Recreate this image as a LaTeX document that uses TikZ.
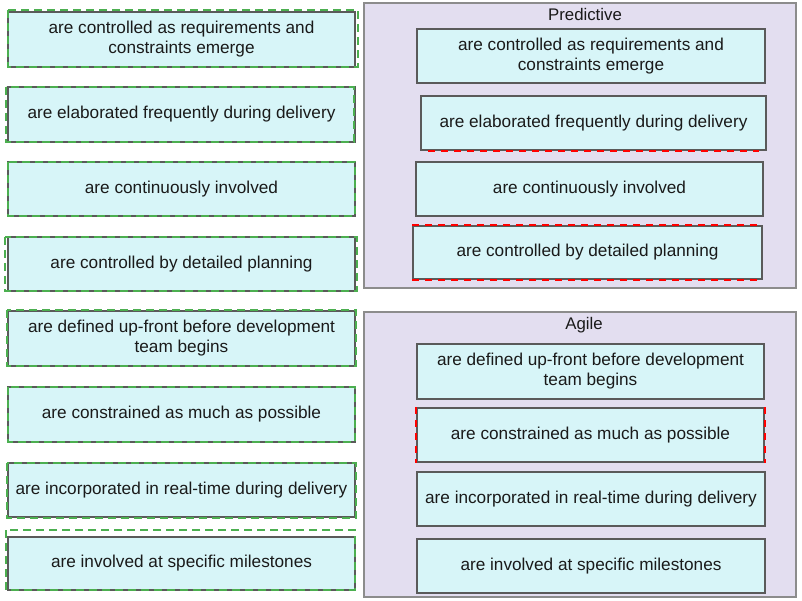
\documentclass[tikz,border=0pt]{standalone}
\usepackage{fontspec}
\setmainfont{Liberation Sans}
\definecolor{boxfill}{HTML}{D7F5F8}
\definecolor{boxline}{HTML}{5A5A5A}
\definecolor{panelfill}{HTML}{E3DEF0}
\definecolor{panelline}{HTML}{8C8C8C}
\definecolor{dropgreen}{HTML}{4CAF50}
\definecolor{txt}{HTML}{1A1A1A}
\tikzset{
  x=1pt, y=-1pt,
  card/.style={draw=boxline, fill=boxfill, line width=1.2pt, inner sep=0pt,
    align=center, text=txt, font=\fontsize{17.2}{20}\selectfont},
  panel/.style={draw=panelline, fill=panelfill, line width=2pt},
  greendash/.style={draw=dropgreen, line width=2.2pt, dash pattern=on 8pt off 5pt},
  reddash/.style={draw=red, line width=2pt, dash pattern=on 7pt off 6pt},
  ptitle/.style={text=txt, font=\fontsize{16.8}{18}\selectfont}
}
\begin{document}
\begin{tikzpicture}
\useasboundingbox (0,0) rectangle (802,601);
\fill[white] (0,0) rectangle (802,601);
% panels
\draw[panel] (364,3) rectangle (796,288);
\draw[panel] (364,312) rectangle (796,597);
\node[ptitle] (tpred) at (585,15) {Predictive};
\node[ptitle] (tagile) at (584,325) {Agile};
% left cards
\node[card, minimum width=347pt, minimum height=55pt] (l1) at (181.5,39.5) {are controlled as requirements and\\constraints emerge};
\node[card, minimum width=347pt, minimum height=55pt] (l2) at (181.5,114.5) {are elaborated frequently during delivery};
\node[card, minimum width=347pt, minimum height=54pt] (l3) at (181.5,189) {are continuously involved};
\node[card, minimum width=347pt, minimum height=54pt] (l4) at (181.5,264) {are controlled by detailed planning};
\node[card, minimum width=347pt, minimum height=55pt] (l5) at (181.5,338.5) {are defined up-front before development\\team begins};
\node[card, minimum width=347pt, minimum height=55pt] (l6) at (181.5,414.5) {are constrained as much as possible};
\node[card, minimum width=347pt, minimum height=54pt] (l7) at (181.5,490) {are incorporated in real-time during delivery};
\node[card, minimum width=347pt, minimum height=53pt] (l8) at (181.5,563.5) {are involved at specific milestones};
% green drop outlines
\draw[greendash] (8,10) rectangle (358,67);
\draw[greendash] (6,87) rectangle (354,142);
\draw[greendash] (8,162) rectangle (355,216);
\draw[greendash] (5,237) rectangle (357,291);
\draw[greendash] (7,310) rectangle (356,366);
\draw[greendash] (8,387) rectangle (355,442);
\draw[greendash] (7,463) rectangle (356,518);
\draw[greendash] (6,530) rectangle (355,590);
% predictive cards
\node[card, minimum width=348pt, minimum height=54pt] (p1) at (591,56) {are controlled as requirements and\\constraints emerge};
\node[card, minimum width=345pt, minimum height=54pt] (p2) at (593.5,123) {are elaborated frequently during delivery};
\node[card, minimum width=347pt, minimum height=54pt] (p3) at (589.5,189) {are continuously involved};
\node[card, minimum width=349pt, minimum height=53pt] (p4) at (587.5,252.5) {are controlled by detailed planning};
% agile cards
\node[card, minimum width=347pt, minimum height=55pt] (a1) at (590.5,371.5) {are defined up-front before development\\team begins};
\node[card, minimum width=347pt, minimum height=54pt] (a2) at (590.5,435) {are constrained as much as possible};
\node[card, minimum width=348pt, minimum height=54pt] (a3) at (591,499) {are incorporated in real-time during delivery};
\node[card, minimum width=348pt, minimum height=54pt] (a4) at (591,566) {are involved at specific milestones};
% red dashed highlights
\draw[reddash] ([xshift=8pt]p2.south west) -- ([xshift=-8pt]p2.south east);
\draw[reddash] (p4.north west) -- (p4.north east);
\draw[reddash] (p4.south west) -- (p4.south east);
\draw[reddash] (a2.north west) -- (a2.south west);
\draw[reddash] (a2.north east) -- (a2.south east);
\end{tikzpicture}
\end{document}
